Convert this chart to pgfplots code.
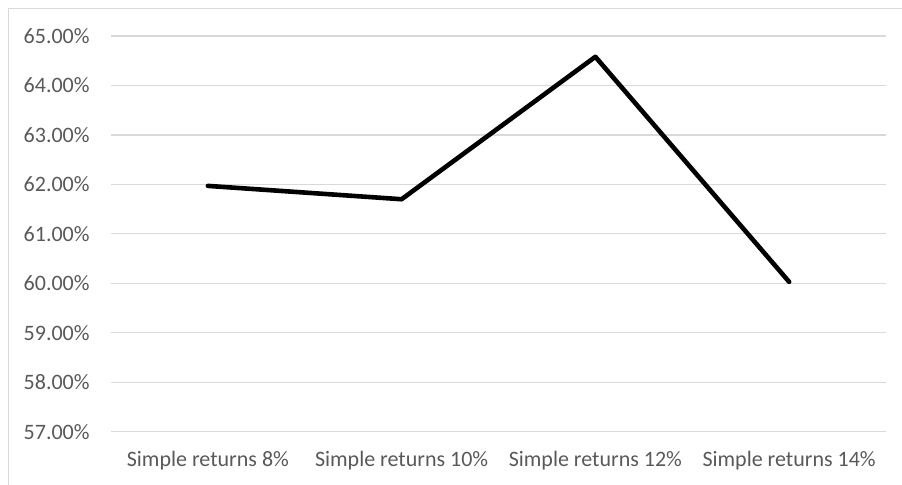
\documentclass[border=0pt]{standalone}
\usepackage{pgfplots}
\pgfplotsset{compat=1.18}
\usepackage{fontspec}
\setmainfont{Carlito}
\definecolor{txtgray}{HTML}{595959}
\definecolor{gridgray}{HTML}{D9D9D9}
\begin{document}
\fontsize{11pt}{13pt}\selectfont
\begin{tikzpicture}
\path[use as bounding box] (0,0) rectangle (451pt,242pt);
\draw[gridgray, line width=0.6pt] (4.2pt,-2pt) -- (4.2pt,237.6pt) -- (453pt,237.6pt);
\begin{axis}[
  at={(55.5pt,26.15pt)}, anchor=south west,
  scale only axis, width=387.5pt, height=197.85pt,
  xmin=-0.5, xmax=3.5, ymin=57, ymax=65,
  axis line style={draw=none},
  xtick={0,1,2,3},
  xticklabels={Simple returns 8\%, Simple returns 10\%, Simple returns 12\%, Simple returns 14\%},
  ytick={57,58,...,65},
  major tick length=0pt,
  ymajorgrids, xmajorgrids=false,
  major grid style={draw=gridgray, line width=0.6pt},
  /pgf/number format/assume math mode=true,
  yticklabel={\pgfmathprintnumber[fixed, fixed zerofill, precision=2]{\tick}\%},
  yticklabel style={anchor=east, inner sep=0pt, xshift=-10.5pt, text=txtgray, font=\fontsize{11pt}{13pt}\selectfont},
  xticklabel style={anchor=base, inner sep=0pt, yshift=-17.6pt, text=txtgray, font=\fontsize{11pt}{13pt}\selectfont},
  clip=false,
]
\addplot[black, line width=2.3pt, line join=round, line cap=round] coordinates {
  (0,61.97) (1,61.70) (2,64.58) (3,60.03)
};
\end{axis}
\end{tikzpicture}
\end{document}
